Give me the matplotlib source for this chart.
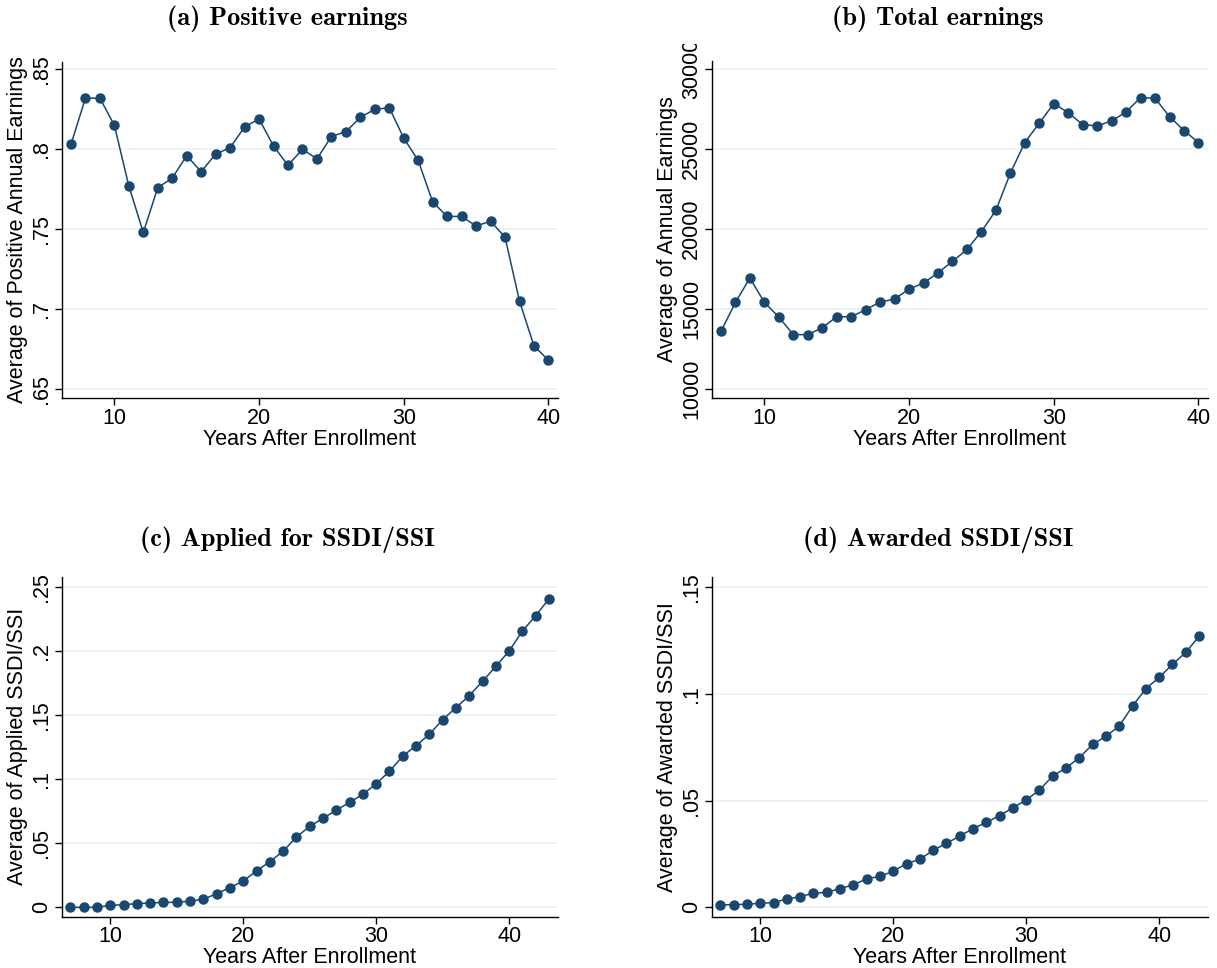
import numpy as np
import matplotlib
matplotlib.use("Agg")
import matplotlib.pyplot as plt
from matplotlib.transforms import Bbox

plt.rcParams['font.family'] = ['Liberation Sans', 'DejaVu Sans']
plt.rcParams['mathtext.fontset'] = 'cm'

years_ab = list(range(7, 41))
years_cd = list(range(7, 44))

pos_earn = [0.803, 0.832, 0.832, 0.815, 0.777, 0.748, 0.776, 0.782, 0.796, 0.786,
            0.797, 0.801, 0.814, 0.819, 0.802, 0.790, 0.800, 0.794, 0.808, 0.811,
            0.820, 0.825, 0.826, 0.807, 0.793, 0.767, 0.758, 0.758, 0.752, 0.755,
            0.745, 0.705, 0.677, 0.668]

tot_earn = [13600, 15420, 16940, 15420, 14500, 13400, 13400, 13830, 14520, 14520,
            14960, 15440, 15630, 16250, 16630, 17270, 17980, 18730, 19850, 21170,
            23500, 25420, 26630, 27850, 27290, 26540, 26460, 26770, 27330, 28230,
            28190, 27040, 26170, 25420]

applied = [0.0, 0.0, 0.0, 0.0016, 0.0021, 0.0029, 0.0034, 0.0039, 0.0039, 0.0049,
           0.0063, 0.0107, 0.0154, 0.0206, 0.0284, 0.0357, 0.0438, 0.0549, 0.0633,
           0.0695, 0.0760, 0.0820, 0.0883, 0.0966, 0.1063, 0.1182, 0.1263, 0.1352,
           0.1466, 0.1560, 0.1654, 0.1766, 0.1883, 0.2003, 0.2159, 0.2279, 0.2411]

awarded = [0.0011, 0.0013, 0.0014, 0.0019, 0.0022, 0.0039, 0.0050, 0.0066, 0.0070,
           0.0088, 0.0105, 0.0134, 0.0145, 0.0169, 0.0205, 0.0225, 0.0267, 0.0300,
           0.0334, 0.0369, 0.0398, 0.0430, 0.0467, 0.0503, 0.0550, 0.0616, 0.0653,
           0.0702, 0.0764, 0.0802, 0.0850, 0.0944, 0.1025, 0.1078, 0.1139, 0.1195,
           0.1270]

titles = ['(a) Positive earnings', '(b) Total earnings',
          '(c) Applied for SSDI/SSI', '(d) Awarded SSDI/SSI']
ylabels = ['Average of Positive Annual Earnings', 'Average of Annual Earnings',
           'Average of Applied SSDI/SSI', 'Average of Awarded SSDI/SSI']
yticks = [[0.65, 0.7, 0.75, 0.8, 0.85],
          [10000, 15000, 20000, 25000, 30000],
          [0, 0.05, 0.1, 0.15, 0.2, 0.25],
          [0, 0.05, 0.1, 0.15]]
yticklabels = [['.65', '.7', '.75', '.8', '.85'],
               ['10000', '15000', '20000', '25000', '30000'],
               ['0', '.05', '.1', '.15', '.2', '.25'],
               ['0', '.05', '.1', '.15']]
ylims = [(0.6442, 0.8548), (9419, 30537), (-0.0073, 0.2583), (-0.0044, 0.1550)]
xticks = [[10, 20, 30, 40]] * 4
xlims = [(6.36, 40.64), (6.36, 40.64), (6.35, 43.65), (6.35, 43.65)]

W, H = 1217, 968
fig = plt.figure(figsize=(W / 100, H / 100), dpi=100)

# axes boxes in pixels: left, top, right, bottom
boxes = [(61.7, 61.7, 557.7, 398.3), (711.7, 60.7, 1207.7, 398.3),
         (61.7, 576.7, 557.7, 916.7), (711.7, 576.7, 1207.7, 916.7)]
title_y = [19, 19, 540, 540]

navy = '#1a476f'
grid_c = '#eaf2f3'

data = [(years_ab, pos_earn), (years_ab, tot_earn),
        (years_cd, applied), (years_cd, awarded)]

for i in range(4):
    l, t, r, b = boxes[i]
    ax = fig.add_axes([l / W, 1 - b / H, (r - l) / W, (b - t) / H])
    x, y = data[i]
    ax.plot(x, y, color=navy, lw=1.1, marker='o', ms=6.5, mec=navy, mfc=navy, zorder=3)
    ax.set_xlim(*xlims[i])
    ax.set_ylim(*ylims[i])
    ax.set_xticks(xticks[i])
    ax.set_yticks(yticks[i])
    ax.set_yticklabels(yticklabels[i], rotation=90, va='center')
    ax.yaxis.grid(True, color=grid_c, lw=1.2)
    ax.set_axisbelow(True)
    for s in ['top', 'right']:
        ax.spines[s].set_visible(False)
    for s in ['left', 'bottom']:
        ax.spines[s].set_linewidth(1.0)
    ax.tick_params(labelsize=15.5, length=5, width=1.0, pad=2)
    ax.set_xlabel('Years After Enrollment', fontsize=15.5, labelpad=0)
    ax.set_ylabel(ylabels[i], fontsize=15.5, labelpad=2)
    cx = (l + r) / 2 - 22
    fig.text(cx / W, 1 - title_y[i] / H, titles[i], family='cmb10',
             ha='center', va='center', fontsize=19)
    if i == 1:
        # top tick label is cut by the panel edge
        clip = Bbox([[0, 0], [W, H - 44]])
        for lab in ax.get_yticklabels():
            lab.set_clip_box(clip)
            lab.set_clip_on(True)

fig.savefig('out.png', dpi=100, facecolor='white')
